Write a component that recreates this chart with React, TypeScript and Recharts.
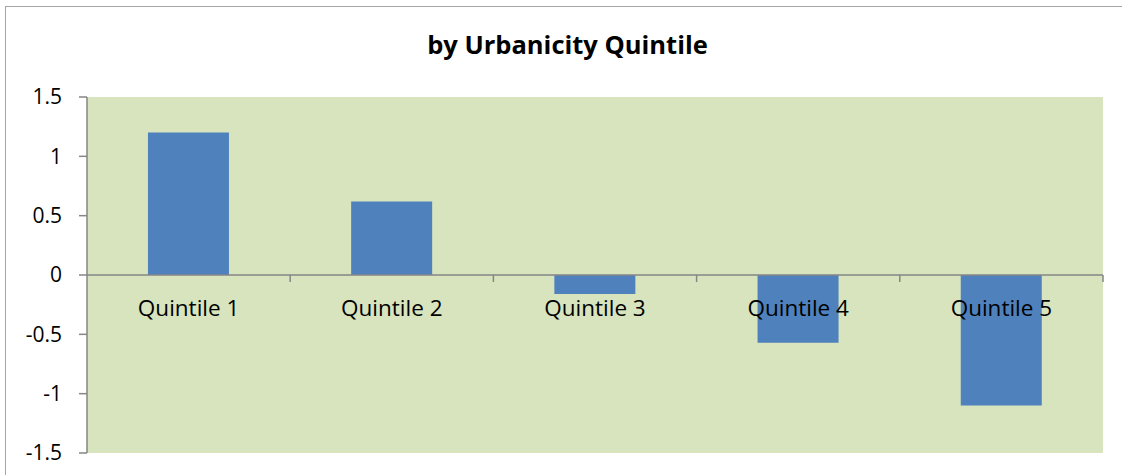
import React from "react";
import { BarChart, Bar, XAxis, YAxis, CartesianGrid, ReferenceLine } from "recharts";

const categories = ["Quintile 1", "Quintile 2", "Quintile 3", "Quintile 4", "Quintile 5"];
const values = [1.2, 0.62, -0.16, -0.57, -1.1];
const yTicks = [-1.5, -1, -0.5, 0, 0.5, 1, 1.5];
const title = "by Urbanicity Quintile";

const data = categories.map((name, i) => ({ name, value: values[i] }));

const FONT = "'Open Sans', sans-serif";
const AXIS = "#868686";

const ZeroAxis = (props: any) => {
  const x1 = props.x1 ?? props.points?.[0]?.x;
  const x2 = props.x2 ?? props.points?.[1]?.x;
  const y = props.y1 ?? props.points?.[0]?.y;
  if (x1 == null || x2 == null || y == null) return null;
  const n = categories.length;
  const step = (x2 - x1) / n;
  const ticks = [];
  for (let i = 1; i <= n; i++) {
    const tx = x1 + i * step;
    ticks.push(<line key={"t" + i} x1={tx} x2={tx} y1={y} y2={y + 7} stroke={AXIS} strokeWidth={1.5} />);
  }
  return (
    <g>
      <line x1={x1} x2={x2} y1={y} y2={y} stroke={AXIS} strokeWidth={1.5} />
      {ticks}
      {categories.map((c, i) => (
        <text
          key={c}
          x={x1 + (i + 0.5) * step}
          y={y + 32}
          textAnchor="middle"
          dominantBaseline="central"
          fontFamily={FONT}
          fontSize={22.5}
          fill="#000"
        >
          {c}
        </text>
      ))}
    </g>
  );
};

export default function App() {
  return (
    <div style={{ position: "absolute", left: 0, top: 0, width: 1122, height: 475, overflow: "hidden", background: "#fff" }}>
      <div
        style={{
          position: "absolute",
          left: 5,
          top: 6,
          width: 1140,
          height: 500,
          border: "1.5px solid #a6a6a6",
          boxSizing: "border-box",
        }}
      />
      <div
        style={{
          position: "absolute",
          left: 0,
          top: 27,
          width: 1135,
          textAlign: "center",
          fontFamily: FONT,
          fontWeight: 700,
          fontSize: 25.5,
          color: "#000",
        }}
      >
        {title}
      </div>
      <div style={{ position: "absolute", left: 0, top: 0 }}>
        <BarChart
          width={1122}
          height={475}
          data={data}
          margin={{ top: 97, right: 19, bottom: 22, left: 0 }}
          barCategoryGap="30%"
        >
          <CartesianGrid fill="#d7e4bd" horizontal={false} vertical={false} stroke="none" />
          <XAxis dataKey="name" hide />
          <YAxis
            width={87}
            domain={[-1.5, 1.5]}
            ticks={yTicks}
            interval={0}
            axisLine={{ stroke: AXIS, strokeWidth: 1.5 }}
            tickLine={{ stroke: AXIS, strokeWidth: 1.5 }}
            tickSize={8}
            tickMargin={17}
            tick={{ fill: "#000", fontFamily: FONT, fontSize: 21 }}
            allowDataOverflow
          />
          <Bar dataKey="value" fill="#4f81bd" isAnimationActive={false} />
          <ReferenceLine y={0} shape={<ZeroAxis />} />
        </BarChart>
      </div>
    </div>
  );
}
